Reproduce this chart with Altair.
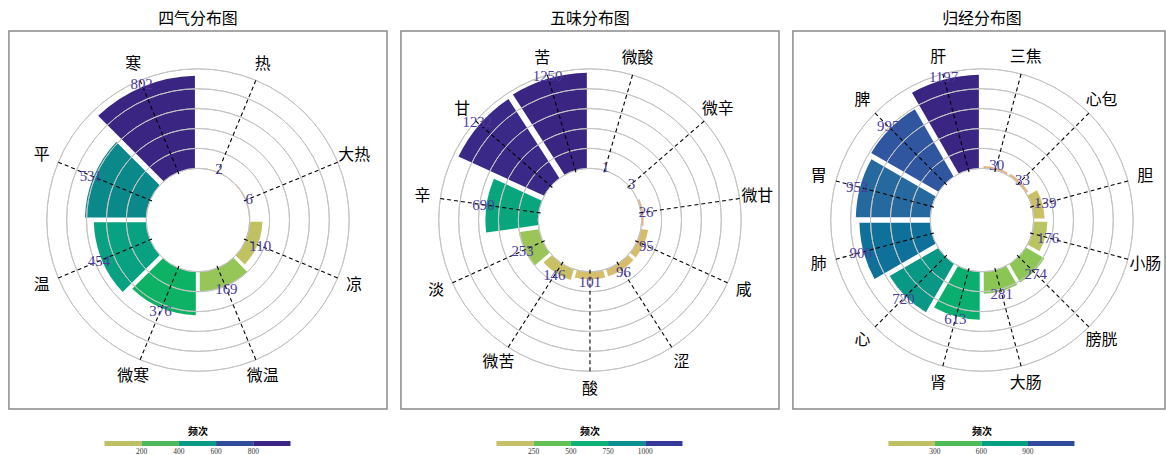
import math
import altair as alt
import pandas as pd

CJK = "Noto Sans CJK SC"
SERIF = "Liberation Serif"

# ---- data ----
qi_cats = ["热", "大热", "凉", "微温", "微寒", "温", "平", "寒"]
qi_vals = [2, 6, 110, 169, 376, 454, 531, 802]

wei_cats = ["微酸", "微辛", "微甘", "咸", "涩", "酸", "微苦", "淡", "辛", "甘", "苦"]
wei_vals = [1, 3, 26, 95, 96, 101, 146, 253, 690, 1232, 1250]

jing_cats = ["三焦", "心包", "胆", "小肠", "膀胱", "大肠", "肾", "心", "肺", "胃", "脾", "肝"]
jing_vals = [30, 33, 139, 176, 274, 281, 613, 720, 906, 952, 995, 1197]

qi_thresholds = [200, 400, 600, 800]
wei_thresholds = [250, 500, 750, 1000]
jing_thresholds = [300, 600, 900]

qi_legend_colors = ["#bcbf62", "#4cb95c", "#0b9a88", "#2f4d9b", "#3a2584"]
wei_legend_colors = ["#c6c168", "#62c152", "#0cb276", "#0a9090", "#36399a"]
jing_legend_colors = ["#bec062", "#4cbb58", "#02a082", "#304a9c"]

# continuous colour ramp (share of panel maximum -> colour)
stops = [0.0, 0.05, 0.09, 0.12, 0.15, 0.22, 0.30, 0.47, 0.52, 0.57, 0.66, 0.76, 0.80, 0.83, 0.90, 1.0]
stop_colors = ["#e6b486", "#deba78", "#d2bf68", "#c8c062", "#bac462", "#92c656", "#6cc452",
               "#0db264", "#0aae72", "#08a083", "#0b8a8a", "#0f7099", "#2868a0", "#3056a0",
               "#3a40a0", "#3a2583"]

S = 380          # nominal panel size
R_IN = 52
R_OUT = 152
CX = S / 2


def panel(title, cats, vals, dmax, thresholds, legend_colors, width=S, title_dx=0):
    n = len(cats)
    df = pd.DataFrame({"cat": cats, "value": vals})
    df["start"] = list(range(n))
    df["end"] = df["start"] + 1
    df["mid"] = df["start"] + 0.5
    base = alt.Chart(df)

    def theta_scale():
        return alt.Scale(type="linear", domain=[0, n], range=[0, 2 * math.pi], zero=False, nice=False)

    def r_scale():
        return alt.Scale(type="linear", domain=[0, dmax], range=[R_IN, R_OUT], zero=False, nice=False)

    cx = alt.value(CX)
    cy = alt.value(CX)

    bars = base.transform_joinaggregate(vmax="max(value)").transform_calculate(
        t="datum.value / datum.vmax"
    ).mark_arc(padAngle=0.04).encode(
        x=cx, y=cy,
        theta=alt.Theta("start:Q", scale=theta_scale(), stack=None),
        theta2="end:Q",
        radius=alt.Radius("value:Q", scale=r_scale()),
        radius2=alt.value(R_IN),
        fill=alt.Fill("t:Q", scale=alt.Scale(domain=stops, range=stop_colors, interpolate="rgb"), legend=None),
    )

    grid_df = pd.DataFrame({"g": [dmax * k / 5 for k in range(6)], "t0": 0, "t1": n})
    rings = alt.Chart(grid_df).mark_arc(fill="transparent", stroke="#c4c4c4", strokeWidth=1).encode(
        x=cx, y=cy,
        theta=alt.Theta("t0:Q", scale=theta_scale(), stack=None),
        theta2="t1:Q",
        radius=alt.Radius("g:Q", scale=r_scale()),
        radius2="g:Q",
    )

    lines = base.transform_calculate(
        ang=f"2*PI*datum.mid/{n}"
    ).transform_calculate(
        x1=f"{R_IN - 2}*sin(datum.ang)", y1=f"{R_IN - 2}*cos(datum.ang)",
        x2=f"{R_OUT}*sin(datum.ang)", y2=f"{R_OUT}*cos(datum.ang)",
    ).mark_rule(strokeDash=[4, 3], color="black", strokeWidth=1.1).encode(
        x=alt.X("x1:Q", scale=alt.Scale(domain=[-CX, CX], range=[0, S], nice=False, zero=False), axis=None),
        y=alt.Y("y1:Q", scale=alt.Scale(domain=[-CX, CX], range=[S, 0], nice=False, zero=False), axis=None),
        x2="x2:Q",
        y2="y2:Q",
    )

    cat_labels = base.mark_text(radius=170, font=CJK, fontSize=16, color="black").encode(
        x=cx, y=cy,
        theta=alt.Theta("mid:Q", scale=theta_scale(), stack=None),
        text="cat:N",
    )

    val_labels = base.mark_text(font=SERIF, fontSize=15, color="#4b3c9c", radiusOffset=3).encode(
        x=cx, y=cy,
        theta=alt.Theta("mid:Q", scale=theta_scale(), stack=None),
        radius=alt.Radius("value:Q", scale=r_scale()),
        text="value:Q",
    )

    legend_layer = base.mark_square(size=0, opacity=1).encode(
        x=cx, y=cy,
        color=alt.Color(
            "value:Q",
            scale=alt.Scale(type="threshold", domain=thresholds, range=legend_colors),
            legend=alt.Legend(
                type="gradient",
                title="频次", orient="none", legendX=96, legendY=398, direction="horizontal",
                gradientLength=187, gradientThickness=5, gradientStrokeWidth=0,
                titleFont=CJK, titleFontSize=10, titleFontWeight="bold", titleAnchor="middle",
                titleOrient="top", titleColor="black", titlePadding=4,
                labelFont=SERIF, labelFontSize=7.5, labelColor="#333333", labelOverlap=False,
            ),
        )
    )

    return alt.layer(bars, rings, lines, cat_labels, val_labels, legend_layer).properties(
        width=width, height=S,
        title=alt.TitleParams(title, font=CJK, fontSize=16, fontWeight="normal", color="black",
                              offset=4, dx=title_dx),
    )


p1 = panel("四气分布图", qi_cats, qi_vals, 862, qi_thresholds, qi_legend_colors)
p2 = panel("五味分布图", wei_cats, wei_vals, 1300, wei_thresholds, wei_legend_colors)
p3 = panel("归经分布图", jing_cats, jing_vals, 1273, jing_thresholds, jing_legend_colors,
           width=374, title_dx=3)

chart = alt.hconcat(p1, p2, p3, spacing=12).resolve_scale(
    theta="independent", radius="independent", fill="independent", color="independent",
    x="independent", y="independent",
).configure_view(stroke="#8a8a8a", strokeWidth=1.5).properties(
    padding={"left": 8, "top": 9, "right": 0, "bottom": 0}, background="white"
)

chart.save("out.html", embed_options={"renderer": "svg", "actions": False})
